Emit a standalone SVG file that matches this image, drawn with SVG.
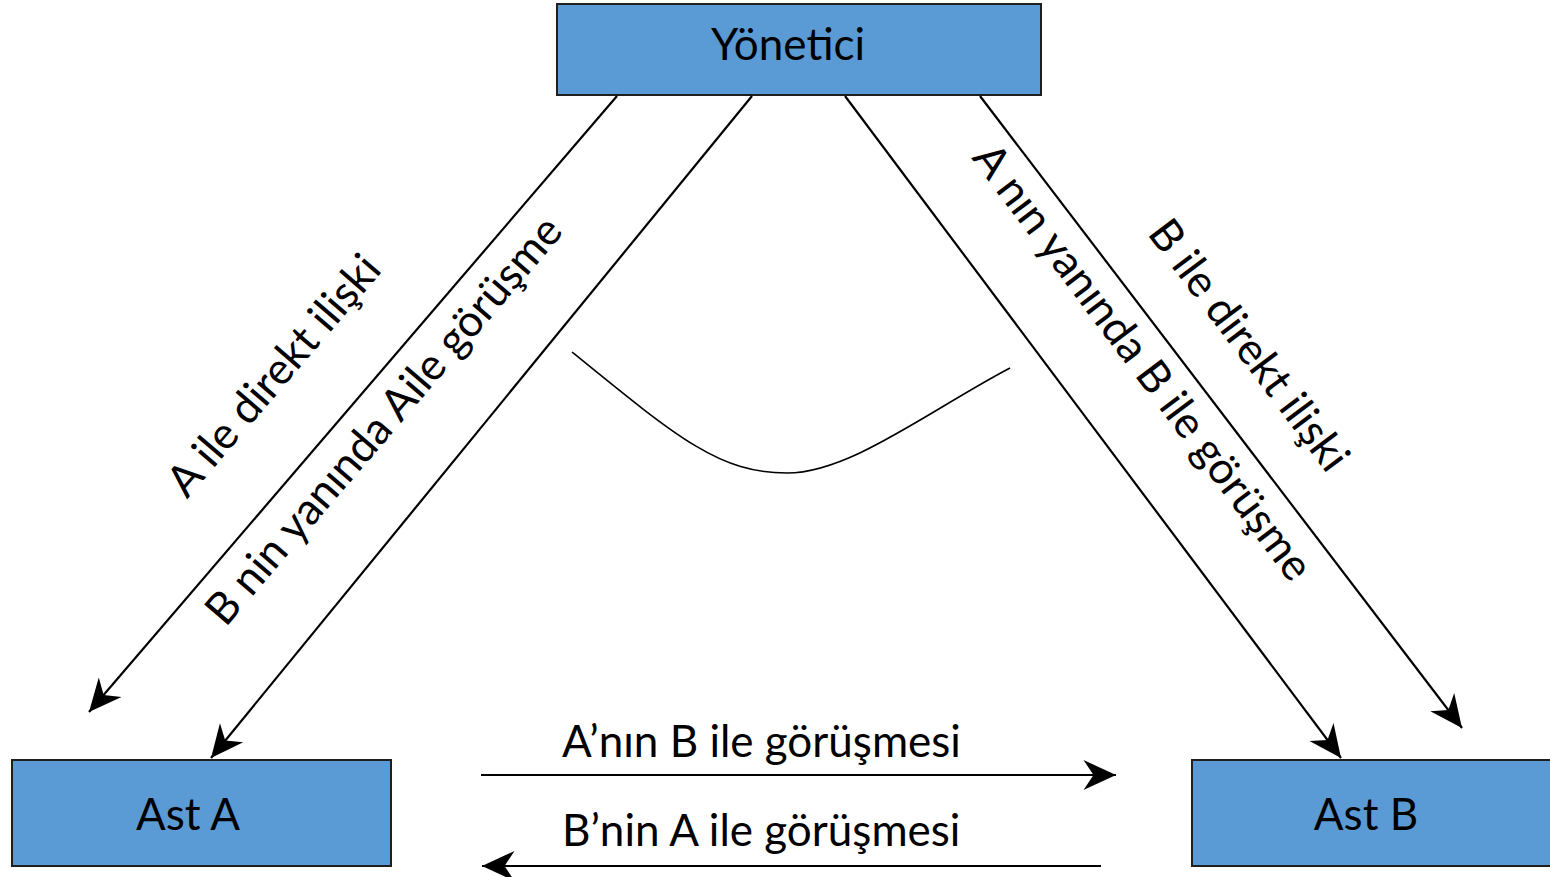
<svg xmlns="http://www.w3.org/2000/svg" width="1550" height="877" viewBox="0 0 1550 877">
<style>
.box{fill:#5B9BD5;stroke:#1f1f1f;stroke-width:2}
.t{font-family:Lato,"Liberation Sans",sans-serif;font-size:44px;fill:#000}
.c{stroke:#000;stroke-width:2.2;fill:none}
</style>
<defs>
<marker id="ah" markerUnits="userSpaceOnUse" markerWidth="40" markerHeight="40" viewBox="-30 -15 32 30" refX="0" refY="0" orient="auto">
<path d="M0,0 L-26,-12 L-18,0 L-26,12 Z" fill="#000"/>
</marker>
</defs>
<rect width="1550" height="877" fill="#fff"/>
<g id="yonetici">
<rect class="box" x="557" y="4" width="484" height="91"/>
<text class="t" x="788" y="60" text-anchor="middle">Yönetici</text>
</g>
<g id="astA">
<rect class="box" x="12" y="760" width="379" height="106"/>
<text class="t" x="188" y="830" text-anchor="middle">Ast A</text>
</g>
<g id="astB">
<rect class="box" x="1192" y="760" width="370" height="106"/>
<text class="t" x="1366" y="830" text-anchor="middle">Ast B</text>
</g>
<g id="connectors">
<line class="c" x1="617" y1="96" x2="89" y2="712" marker-end="url(#ah)"/>
<line class="c" x1="752" y1="96" x2="211" y2="758" marker-end="url(#ah)"/>
<line class="c" x1="845" y1="96" x2="1341" y2="758" marker-end="url(#ah)"/>
<line class="c" x1="980" y1="96" x2="1462" y2="728" marker-end="url(#ah)"/>
<line class="c" x1="481" y1="775" x2="1116" y2="775" marker-end="url(#ah)"/>
<line class="c" x1="1101" y1="866" x2="482" y2="866" marker-end="url(#ah)"/>
<path d="M572,352 C680,440 720,473 787,473 C850,473 930,410 1010,368" fill="none" stroke="#000" stroke-width="1.6"/>
</g>
<g id="labels">
<text class="t" transform="translate(285,385) rotate(-49.4)" text-anchor="middle">A ile direkt ilişki</text>
<text class="t" transform="translate(395,430) rotate(-49.4)" text-anchor="middle">B nin yanında Aile görüşme</text>
<text class="t" transform="translate(1131,371) rotate(53.1)" text-anchor="middle">A nın yanında B ile görüşme</text>
<text class="t" transform="translate(1237,354) rotate(53.1)" text-anchor="middle">B ile direkt ilişki</text>
<text class="t" x="562" y="757">A’nın B ile görüşmesi</text>
<text class="t" x="562" y="846">B’nin A ile görüşmesi</text>
</g>
</svg>
